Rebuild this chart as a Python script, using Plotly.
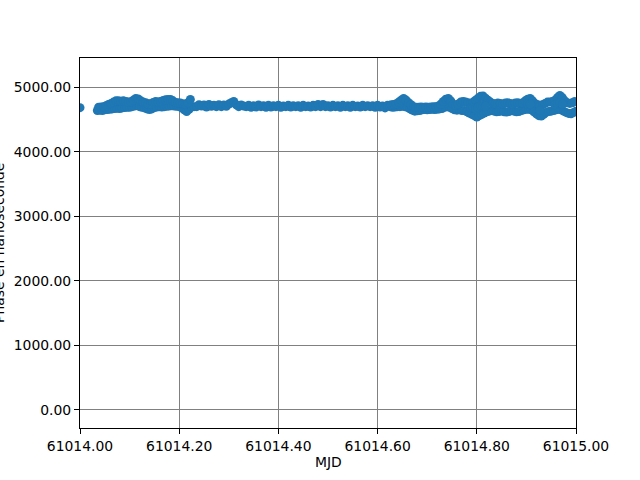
import plotly.graph_objects as go

MJD_BASE = 61014.0

# Isolated first measurement
first_offset = [0.000]
first_phase = [4684]

# Track A: MJD offsets from 61014 (days) and phase (ns)
offset_a = [
    0.035, 0.040, 0.045, 0.050, 0.055, 0.060, 0.065, 0.070, 0.075, 0.080,
    0.085, 0.090, 0.095, 0.100, 0.105, 0.110, 0.115, 0.120, 0.125, 0.130,
    0.135, 0.140, 0.145, 0.150, 0.155, 0.160, 0.165, 0.170, 0.175, 0.180,
    0.185, 0.190, 0.195, 0.200, 0.205, 0.210, 0.215, 0.220, 0.225, 0.230,
    0.235, 0.240, 0.245, 0.250, 0.255, 0.260, 0.265, 0.270, 0.275, 0.280,
    0.285, 0.290, 0.295, 0.300, 0.305, 0.310, 0.315, 0.320, 0.325, 0.330,
    0.335, 0.340, 0.345, 0.350, 0.355, 0.360, 0.365, 0.370, 0.375, 0.380,
    0.385, 0.390, 0.395, 0.400, 0.405, 0.410, 0.415, 0.420, 0.425, 0.430,
    0.435, 0.440, 0.445, 0.450, 0.455, 0.460, 0.465, 0.470, 0.475, 0.480,
    0.485, 0.490, 0.495, 0.500, 0.505, 0.510, 0.515, 0.520, 0.525, 0.530,
    0.535, 0.540, 0.545, 0.550, 0.555, 0.560, 0.565, 0.570, 0.575, 0.580,
    0.585, 0.590, 0.595, 0.600, 0.605, 0.610, 0.615, 0.620, 0.625,
    0.630, 0.635, 0.640, 0.645, 0.650, 0.655, 0.660, 0.665, 0.670, 0.675,
    0.680, 0.685, 0.690, 0.695, 0.700, 0.705, 0.710, 0.715, 0.720, 0.725,
    0.730, 0.735, 0.740, 0.745, 0.750, 0.755, 0.760, 0.765, 0.770, 0.775,
    0.780, 0.785, 0.790, 0.795, 0.800, 0.805, 0.810, 0.815, 0.820, 0.825,
    0.830, 0.835, 0.840, 0.845, 0.850, 0.855, 0.860, 0.865, 0.870, 0.875,
    0.880, 0.885, 0.890, 0.895, 0.900, 0.905, 0.910, 0.915, 0.920, 0.925,
    0.930, 0.935, 0.940, 0.945, 0.950, 0.955, 0.960, 0.965, 0.970, 0.975,
    0.980, 0.985, 0.990, 0.995, 1.000,
]
phase_a = [
    4640, 4645, 4640, 4650, 4655, 4660, 4665, 4670, 4675, 4670,
    4680, 4685, 4690, 4690, 4700, 4710, 4720, 4700, 4690, 4680,
    4665, 4656, 4665, 4685, 4695, 4700, 4695, 4700, 4705, 4710,
    4715, 4710, 4705, 4700, 4680, 4650, 4625, 4660, 4700, 4700,
    4700, 4730, 4710, 4725, 4695, 4735, 4705, 4720, 4700, 4730,
    4700, 4725, 4705, 4740, 4760, 4780, 4730, 4700, 4725, 4710,
    4700, 4720, 4690, 4715, 4695, 4725, 4700, 4715, 4690, 4720,
    4695, 4715, 4700, 4720, 4690, 4710, 4700, 4720, 4695, 4715,
    4700, 4715, 4690, 4720, 4700, 4710, 4695, 4720, 4700, 4735,
    4700, 4735, 4700, 4715, 4695, 4720, 4700, 4715, 4690, 4720,
    4700, 4715, 4690, 4720, 4700, 4710, 4695, 4720, 4700, 4715,
    4700, 4715, 4690, 4720, 4695, 4710, 4680, 4720, 4700,
    4690, 4695, 4700, 4700, 4705, 4700, 4690, 4665, 4645, 4630,
    4635, 4640, 4650, 4655, 4650, 4655, 4660, 4655, 4660, 4665,
    4670, 4690, 4700, 4690, 4670, 4650, 4645, 4650, 4640, 4640,
    4620, 4600, 4580, 4560, 4540, 4560, 4580, 4600, 4620, 4630,
    4640, 4630, 4620, 4625, 4635, 4620, 4617, 4625, 4640, 4630,
    4620, 4625, 4640, 4650, 4660, 4660, 4650, 4620, 4590, 4560,
    4555, 4580, 4610, 4625, 4630, 4640, 4650, 4660, 4650, 4630,
    4610, 4595, 4590, 4610, 4630,
]

# Track B: upper readings in the noisy stretches
offset_b = [
    0.0375, 0.0425, 0.0475, 0.0525, 0.0575, 0.0625, 0.0675, 0.0725, 0.0775, 0.0825,
    0.0875, 0.0925, 0.0975, 0.1025, 0.1075, 0.1125, 0.1175, 0.1225, 0.1275, 0.1325,
    0.1375, 0.1425, 0.1475, 0.1525, 0.1575, 0.1625, 0.1675, 0.1725, 0.1775, 0.1825,
    0.1875, 0.1925, 0.1975, 0.2025, 0.2075, 0.2125, 0.2175, 0.2225,
    0.6275, 0.6325, 0.6375, 0.6425, 0.6475, 0.6525, 0.6575, 0.6625, 0.6675, 0.6725,
    0.6775, 0.6825, 0.6875, 0.6925, 0.6975, 0.7025, 0.7075, 0.7125, 0.7175, 0.7225,
    0.7275, 0.7325, 0.7375, 0.7425, 0.7475, 0.7525, 0.7575, 0.7625, 0.7675, 0.7725,
    0.7775, 0.7825, 0.7875, 0.7925, 0.7975, 0.8025, 0.8075, 0.8125, 0.8175, 0.8225,
    0.8275, 0.8325, 0.8375, 0.8425, 0.8475, 0.8525, 0.8575, 0.8625, 0.8675, 0.8725,
    0.8775, 0.8825, 0.8875, 0.8925, 0.8975, 0.9025, 0.9075, 0.9125, 0.9175, 0.9225,
    0.9275, 0.9325, 0.9375, 0.9425, 0.9475, 0.9525, 0.9575, 0.9625, 0.9675, 0.9725,
    0.9775, 0.9825, 0.9875, 0.9925, 0.9975,
]
phase_b = [
    4690, 4695, 4700, 4715, 4735, 4750, 4770, 4790, 4790, 4785,
    4790, 4780, 4770, 4775, 4800, 4826, 4820, 4790, 4770, 4760,
    4740, 4745, 4765, 4780, 4770, 4780, 4795, 4805, 4810, 4810,
    4790, 4765, 4760, 4755, 4745, 4735, 4760, 4810,
    4730, 4735, 4745, 4770, 4800, 4826, 4800, 4760, 4730, 4700,
    4690, 4690, 4695, 4690, 4695, 4690, 4695, 4700, 4700, 4710,
    4740, 4780, 4815, 4826, 4790, 4740, 4720, 4740, 4770, 4780,
    4770, 4760, 4750, 4770, 4800, 4830, 4860, 4865, 4830, 4800,
    4770, 4750, 4745, 4755, 4750, 4740, 4755, 4760, 4750, 4740,
    4755, 4760, 4750, 4760, 4790, 4815, 4826, 4790, 4750, 4730,
    4720, 4730, 4750, 4770, 4770, 4780, 4800, 4840, 4873, 4840,
    4790, 4760, 4750, 4760, 4780,
]

# Track C: middle readings where the spread is widest
offset_c = [0.7875, 0.7925, 0.7975, 0.8025, 0.8075, 0.8125, 0.8175,
            0.9025, 0.9075, 0.9275, 0.9575, 0.9625, 0.9675, 0.9725]
phase_c = [4680, 4680, 4670, 4690, 4710, 4720, 4710,
           4740, 4740, 4640, 4730, 4750, 4760, 4740]

all_offsets = first_offset + offset_a + offset_b + offset_c
all_phase = first_phase + phase_a + phase_b + phase_c
mjd = [MJD_BASE + d for d in all_offsets]

x_range = [61014.0, 61015.0]
y_range = [-282, 5454]
x_ticks = [61014.0, 61014.2, 61014.4, 61014.6, 61014.8, 61015.0]
y_ticks = [0, 1000, 2000, 3000, 4000, 5000]

x_title = "MJD"
y_title = "Phase en nanoseconde"

font_family = "DejaVu Sans"
font_size = 13.9

fig = go.Figure()
fig.add_trace(go.Scatter(
    x=mjd, y=all_phase, mode="markers",
    marker=dict(color="#1f77b4", size=9, line=dict(width=0)),
    showlegend=False,
))

axis_common = dict(
    showline=True, linecolor="black", linewidth=1, mirror=True,
    ticks="outside", ticklen=5, tickcolor="black", tickwidth=1,
    showgrid=True, gridcolor="gray", gridwidth=1.2,
    zeroline=False, tickformat=".2f",
    tickfont=dict(family=font_family, size=font_size, color="black"),
)

fig.update_xaxes(range=x_range, tickvals=x_ticks, **axis_common)
fig.update_yaxes(range=y_range, tickvals=y_ticks, **axis_common)

plot_h = 428 - 58
plot_w = 576 - 80
fig.add_annotation(
    text=x_title, xref="paper", yref="paper",
    x=0.5, y=(428 - 462) / plot_h, xanchor="center", yanchor="middle",
    showarrow=False, font=dict(family=font_family, size=font_size, color="black"),
)
fig.add_annotation(
    text=y_title, xref="paper", yref="paper", textangle=-90,
    x=(-1 - 80) / plot_w, y=0.5, xanchor="center", yanchor="middle",
    showarrow=False, font=dict(family=font_family, size=font_size, color="black"),
)

# plot area at x 80-576, y 58-428 of the page (body margin removed below)
fig.update_layout(
    width=640, height=480,
    margin=dict(l=80, r=64, t=58, b=52, autoexpand=False),
    paper_bgcolor="white", plot_bgcolor="white",
    font=dict(family=font_family, size=font_size, color="black"),
)

fig.write_html(
    "out.html",
    config={"displayModeBar": False},
    post_script="document.body.style.margin='0';",
)
